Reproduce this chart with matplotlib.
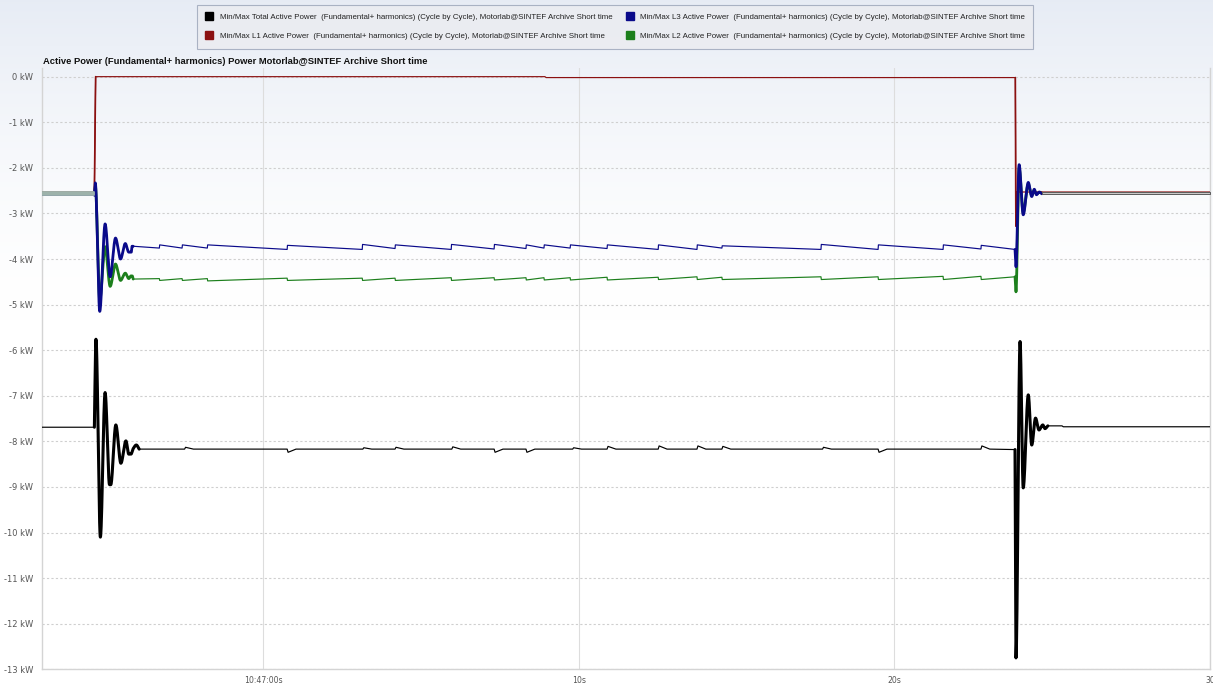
import numpy as np
import matplotlib
matplotlib.use("Agg")
import matplotlib.pyplot as plt
from matplotlib.lines import Line2D

W, H, DPI = 1213, 687, 100

# ---------------------------------------------------------------- data
# time in seconds relative to 10:47:00, power in kW
t_start, t_end = -7.02, 30.0

series_names = [
    "Min/Max Total Active Power  (Fundamental+ harmonics) (Cycle by Cycle), Motorlab@SINTEF Archive Short time",
    "Min/Max L1 Active Power  (Fundamental+ harmonics) (Cycle by Cycle), Motorlab@SINTEF Archive Short time",
    "Min/Max L3 Active Power  (Fundamental+ harmonics) (Cycle by Cycle), Motorlab@SINTEF Archive Short time",
    "Min/Max L2 Active Power  (Fundamental+ harmonics) (Cycle by Cycle), Motorlab@SINTEF Archive Short time",
]
series_colors = ["#000000", "#8b1010", "#0a0a8a", "#1c7f1c"]

# phases overlap before switch-on and after the switch-off transient
phase_pre = {"L1": -2.53, "L2": -2.57, "L3": -2.60}
phase_post = {"L1": -2.53, "L2": -2.55, "L3": -2.57}

# Total: start-up transient
total_on_t = [-7.02, -5.36, -5.31, -5.17, -5.02, -4.88, -4.84, -4.68, -4.52,
              -4.36, -4.27, -4.20, -4.13, -4.03, -3.94]
total_on_v = [-7.69, -7.69, -5.76, -10.10, -6.93, -8.95, -8.95, -7.64, -8.48,
              -7.99, -8.28, -8.28, -8.16, -8.08, -8.17]
# Total: steady level and small blips
total_base = -8.17
total_blip_t = [-2.50, 0.75, 3.15, 4.17, 5.97, 7.31, 8.32, 9.80, 10.89, 12.51,
                13.74, 14.53, 17.72, 19.48, 22.74]
total_blip_v = [-8.13, -8.24, -8.14, -8.13, -8.12, -8.24, -8.24, -8.14, -8.11,
                -8.10, -8.10, -8.11, -8.13, -8.24, -8.10]
# Total: switch-off transient
total_off_t = [23.82, 23.85, 23.98, 24.08, 24.24, 24.35, 24.47, 24.58, 24.70,
               24.77, 24.86, 25.31, 25.35, 30.0]
total_off_v = [-8.18, -12.75, -5.81, -9.02, -6.98, -8.08, -7.49, -7.75, -7.64,
               -7.72, -7.66, -7.66, -7.68, -7.68]

# L1
l1_t = [-7.02, -5.36, -5.32, 8.92, 8.96, 23.83, 23.85, 23.87, 30.0]
l1_v = [-2.53, -2.53, 0.00, 0.00, -0.02, -0.02, -3.28, -2.53, -2.53]

# L3: start-up transient
l3_on_t = [-7.02, -5.36, -5.33, -5.19, -5.02, -4.86, -4.69, -4.53, -4.38,
           -4.27, -4.19, -4.17, -4.13]
l3_on_v = [-2.60, -2.60, -2.33, -5.15, -3.23, -4.39, -3.54, -4.00, -3.66,
           -3.85, -3.85, -3.72, -3.72]
# L3 / L2: load steps (sawtooth)
step_t = [-3.30, -2.58, -1.78, 0.75, 3.13, 4.17, 5.95, 7.31, 8.32, 8.89,
          9.72, 10.89, 12.51, 13.74, 14.53, 17.67, 19.48, 21.54, 22.74]
l3_before = [-3.76, -3.76, -3.76, -3.79, -3.79, -3.77, -3.79, -3.78, -3.77, -3.76,
             -3.76, -3.77, -3.79, -3.79, -3.76, -3.79, -3.79, -3.79, -3.78]
l3_after = [-3.69, -3.69, -3.69, -3.70, -3.68, -3.69, -3.68, -3.68, -3.69, -3.69,
            -3.69, -3.69, -3.69, -3.69, -3.71, -3.68, -3.69, -3.69, -3.70]
# L3: switch-off transient
l3_off_t = [23.82, 23.85, 23.95, 24.08, 24.24, 24.35, 24.43, 24.50, 24.59, 24.67, 30.0]
l3_off_v = [-3.79, -4.17, -1.93, -3.03, -2.32, -2.63, -2.47, -2.59, -2.53, -2.57, -2.57]

# L2: start-up transient
l2_on_t = [-7.02, -5.36, -5.33, -5.19, -5.02, -4.86, -4.69, -4.53, -4.38,
           -4.27, -4.20, -4.16, -4.13]
l2_on_v = [-2.57, -2.57, -2.40, -4.90, -3.73, -4.60, -4.11, -4.47, -4.31,
           -4.43, -4.37, -4.37, -4.44]
l2_before = [-4.43, -4.43, -4.43, -4.42, -4.42, -4.42, -4.41, -4.41, -4.41, -4.41,
             -4.41, -4.40, -4.40, -4.39, -4.40, -4.39, -4.39, -4.38, -4.38]
l2_after = [-4.47, -4.47, -4.48, -4.47, -4.47, -4.47, -4.47, -4.46, -4.46, -4.46,
            -4.46, -4.46, -4.45, -4.45, -4.45, -4.45, -4.45, -4.45, -4.45]
l2_off_t = [23.82, 23.85, 23.95, 24.08, 24.24, 24.35, 24.43, 24.50, 24.59, 24.67, 30.0]
l2_off_v = [-4.39, -4.72, -2.00, -2.98, -2.36, -2.60, -2.50, -2.57, -2.54, -2.55, -2.55]

y_ticks = list(range(0, -14, -1))
y_labels = [f"{v} kW" for v in y_ticks]
x_ticks = [0, 10, 20, 30]
x_labels = ["10:47:00s", "10s", "20s", "30"]
title = "Active Power (Fundamental+ harmonics) Power Motorlab@SINTEF Archive Short time"


# ---------------------------------------------------------------- helpers
def stepped(on_t, on_v, before, after, off_t, off_v):
    """Join transient parts with vertical load steps in between."""
    t = list(on_t)
    v = list(on_v)
    for ts, vb, va in zip(step_t, before, after):
        t += [ts, ts + 0.01]
        v += [vb, va]
    return np.array(t + off_t), np.array(v + off_v)


def with_blips(on_t, on_v, base, bt, bv, off_t, off_v):
    t = list(on_t)
    v = list(on_v)
    for tb, vb in zip(bt, bv):
        t += [tb, tb + 0.03, tb + 0.28]
        v += [base, vb, base]
    return np.array(t + off_t), np.array(v + off_v)


def smooth_path(x, y, n=24):
    """Monotone cubic (PCHIP) curve through the points, for drawing only."""
    x = np.asarray(x, float)
    y = np.asarray(y, float)
    if len(x) < 3:
        return x, y
    h = np.diff(x)
    d = np.diff(y) / h
    m = np.zeros_like(y)
    m[0], m[-1] = d[0], d[-1]
    for k in range(1, len(x) - 1):
        if d[k - 1] * d[k] <= 0:
            m[k] = 0.0
        else:
            w1 = 2 * h[k] + h[k - 1]
            w2 = h[k] + 2 * h[k - 1]
            m[k] = (w1 + w2) / (w1 / d[k - 1] + w2 / d[k])
    xs, ys = [], []
    for k in range(len(x) - 1):
        s = np.linspace(0, 1, n, endpoint=False)
        h00 = 2 * s**3 - 3 * s**2 + 1
        h10 = s**3 - 2 * s**2 + s
        h01 = -2 * s**3 + 3 * s**2
        h11 = s**3 - s**2
        xs.append(x[k] + s * h[k])
        ys.append(h00 * y[k] + h10 * h[k] * m[k] + h01 * y[k + 1] + h11 * h[k] * m[k + 1])
    xs.append([x[-1]])
    ys.append([y[-1]])
    return np.concatenate(xs), np.concatenate(ys)


total_t, total_v = with_blips(total_on_t, total_on_v, total_base, total_blip_t,
                              total_blip_v, total_off_t, total_off_v)
l3_t, l3_v = stepped(l3_on_t, l3_on_v, l3_before, l3_after, l3_off_t, l3_off_v)
l2_t, l2_v = stepped(l2_on_t, l2_on_v, l2_before, l2_after, l2_off_t, l2_off_v)
l1_t, l1_v = np.array(l1_t), np.array(l1_v)

transients = [(-5.37, -3.93), (23.81, 24.90)]

# ---------------------------------------------------------------- figure
fig = plt.figure(figsize=(W / DPI, H / DPI), dpi=DPI)

# soft bluish wash at the top of the page
bg = fig.add_axes([0, 0, 1, 1], zorder=-10)
rows = np.arange(H)
k = np.clip(1 - rows / 320.0, 0, 1) ** 1.6
top = np.array([0.905, 0.925, 0.960])
grad = 1 - k[:, None] * (1 - top)[None, :]
bg.imshow(np.repeat(grad[:, None, :], 4, axis=1), aspect="auto",
          extent=[0, 1, 0, 1], origin="upper")
bg.set_axis_off()

ax = fig.add_axes([42 / W, 1 - 669.3 / H, (1210 - 42) / W, (669.3 - 68) / H])
ax.set_facecolor("none")
ax.set_xlim(t_start, t_end)
ax.set_ylim(-13, 0.19)

ax.set_yticks(y_ticks)
ax.set_yticklabels(y_labels)
ax.set_xticks(x_ticks)
ax.set_xticklabels(x_labels)
ax.tick_params(axis="y", length=0, pad=6.5, labelsize=6.0, labelcolor="#555555")
ax.tick_params(axis="x", length=0, pad=4.5, labelsize=5.6, labelcolor="#555555")
for lab in ax.get_yticklabels() + ax.get_xticklabels():
    lab.set_family("DejaVu Sans")
ax.grid(axis="y", color="#cfcfcf", lw=0.8, ls=(0, (2, 2)))
ax.grid(axis="x", color="#dddddd", lw=0.8, ls="-")
ax.set_axisbelow(True)
ax.spines["top"].set_visible(False)
for side in ("left", "bottom", "right"):
    ax.spines[side].set_color("#d4d4d4")
    ax.spines[side].set_linewidth(1.0)


def draw(t, v, color, z, thick=2.0):
    ax.plot(t, v, color=color, lw=0.85, zorder=z, solid_joinstyle="round")
    for a, b in transients:
        m = (t >= a) & (t <= b)
        sx, sy = smooth_path(t[m], v[m])
        ax.plot(sx, sy, color=color, lw=thick, zorder=z + 0.1,
                solid_joinstyle="round", solid_capstyle="round")


draw(l2_t, l2_v, series_colors[3], 2)
draw(l1_t, l1_v, series_colors[1], 3, thick=1.2)
draw(l3_t, l3_v, series_colors[2], 4)
draw(total_t, total_v, series_colors[0], 5, thick=2.2)

# overlapping phases shown as a single band
pre_lo, pre_hi = min(phase_pre.values()), max(phase_pre.values())
post_lo, post_hi = min(phase_post.values()), max(phase_post.values())
ax.fill_between([t_start, l3_on_t[1]], pre_lo, pre_hi, color="#9db2ab",
                lw=1.3, edgecolor="#9db2ab", zorder=6)
ax.fill_between([l3_off_t[-2], t_end], post_lo, post_hi, facecolor="#c9c9c9",
                edgecolor="#5c5c5c", lw=0.7, zorder=6)

fig.text(43 / W, 1 - 62 / H, title, fontsize=6.75, fontweight="bold",
         family="Liberation Sans", va="center", ha="left", color="#111111")

handles = [Line2D([0], [0], marker="s", ls="none", markersize=6.3,
                  markerfacecolor=c, markeredgecolor=c) for c in series_colors]
leg = fig.legend(handles, series_names, ncol=2, loc="upper left",
                 bbox_to_anchor=(197 / W, 1 - 5 / H), frameon=True,
                 fancybox=False, prop={"family": "Liberation Sans", "size": 5.7},
                 handlelength=0.9, handletextpad=0.85, columnspacing=1.75,
                 labelspacing=1.4, borderpad=1.1, borderaxespad=0)
leg.get_frame().set_facecolor("#ebecf0")
leg.get_frame().set_edgecolor("#9aa4b8")
leg.get_frame().set_linewidth(0.8)
for txt in leg.get_texts():
    txt.set_color("#222222")

fig.savefig("out.png", dpi=DPI)
